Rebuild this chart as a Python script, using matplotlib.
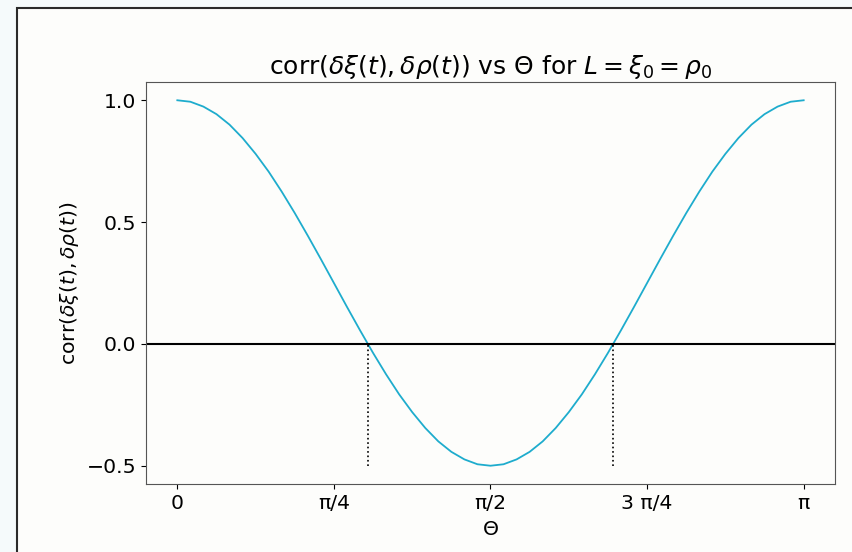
import numpy as np
import matplotlib
matplotlib.use("Agg")
from matplotlib import pyplot as plt
from matplotlib.patches import Rectangle

# values, theta in steps of pi/48
theta_steps = list(range(49))
corr_values = [1.000, 0.994, 0.974, 0.943, 0.900, 0.845, 0.780, 0.707, 0.625,
               0.537, 0.444, 0.348, 0.250, 0.152, 0.056, -0.037, -0.125,
               -0.207, -0.280, -0.345, -0.400, -0.443, -0.474, -0.494, -0.500,
               -0.494, -0.474, -0.443, -0.400, -0.345, -0.280, -0.207, -0.125,
               -0.037, 0.056, 0.152, 0.250, 0.348, 0.444, 0.537, 0.625,
               0.707, 0.780, 0.845, 0.900, 0.943, 0.974, 0.994, 1.000]
zero_crossings = [0.955, 2.186]
tick_labels = ['0', 'π/4', 'π/2', '3 π/4', 'π']
y_ticks = [-0.5, 0.0, 0.5, 1.0]

theta = np.array(theta_steps) * np.pi / 48

fig = plt.figure(figsize=(8.53, 5.52), dpi=100, facecolor='#f5fafb')
# screenshot frame around the notebook output
fig.patches.append(Rectangle((17 / 853, -0.1), 1.2, (552 - 8) / 552 + 0.1,
                             transform=fig.transFigure, facecolor='#fdfdfb',
                             edgecolor='#2a2a2a', linewidth=1.5, zorder=-1))

axis = fig.add_axes([146 / 853, 1 - 484 / 552, (835 - 146) / 853, (484 - 82) / 552])
axis.set_facecolor('#fdfdfb')

axis.plot(theta, corr_values, color='#1eaccd', linewidth=1.3)
axis.axhline(0, color='black', linewidth=1.5)
for x0 in zero_crossings:
    axis.plot([x0, x0], [-0.5, 0], color='black', linestyle=':', linewidth=1.2)

axis.set_xticks(np.arange(5) * np.pi / 4)
axis.set_xticklabels(tick_labels)
axis.set_yticks(y_ticks)
axis.tick_params(labelsize=14.7)
for s in axis.spines.values():
    s.set_color('#555555')

axis.set_title(r'corr$(\delta\xi(t),\delta\rho(t))$ vs $\Theta$ for $L=\xi_0=\rho_0$',
               fontsize=18)
axis.set_xlabel(r'$\Theta$', fontsize=14.7, labelpad=5)
axis.set_ylabel(r'corr$(\delta\xi(t),\delta\rho(t))$', fontsize=14.7)

fig.savefig('out.png', dpi=100, facecolor=fig.get_facecolor())
